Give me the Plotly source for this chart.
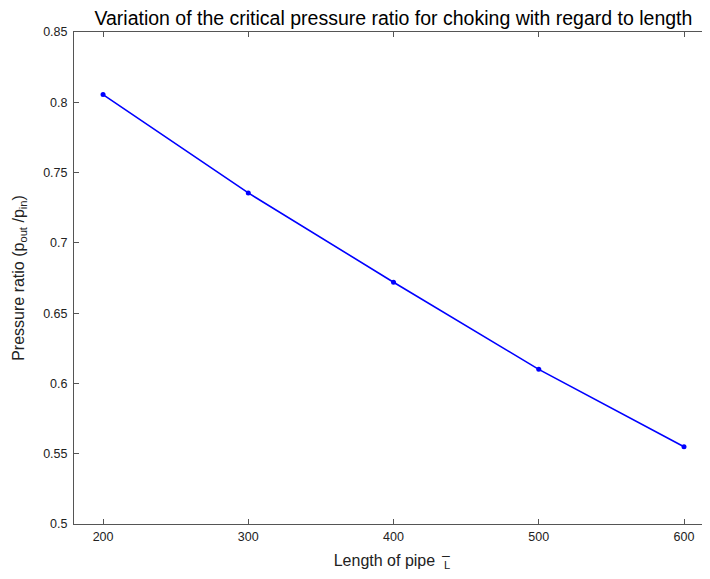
import plotly.graph_objects as go

lengths = [200, 300, 400, 500, 600]
pressure_ratio = [0.8055, 0.7355, 0.672, 0.610, 0.555]

x_ticks = [200, 300, 400, 500, 600]
y_ticks = [0.5, 0.55, 0.6, 0.65, 0.7, 0.75, 0.8, 0.85]
y_tick_text = ["0.5", "0.55", "0.6", "0.65", "0.7", "0.75", "0.8", "0.85"]

fig = go.Figure()
fig.add_trace(go.Scatter(
    x=lengths, y=pressure_ratio, mode="lines+markers",
    line=dict(color="#0000ff", width=1.6),
    marker=dict(color="#0000ff", size=5),
    showlegend=False,
))

font = "Liberation Sans, Arial, sans-serif"
fig.update_layout(
    width=702, height=571,
    margin=dict(l=66, r=0, t=24, b=55),
    paper_bgcolor="white", plot_bgcolor="white",
    font=dict(family=font, size=12.5, color="#222222"),
    title=dict(text="Variation of the critical pressure ratio for choking with regard to length",
               x=0.549, xanchor="center", y=0.995, yanchor="top",
               font=dict(family=font, size=19.5, color="black")),
    xaxis=dict(range=[180, 617.9], tickvals=x_ticks, ticks="inside", ticklen=5,
               tickcolor="#555555", showline=True, linecolor="#555555", linewidth=1,
               mirror="ticks", showgrid=False, zeroline=False, automargin=False,
               tickfont=dict(size=12.5), ticklabelstandoff=1,
               title=dict(text="Length of pipe  <sub>L</sub>", standoff=11,
                          font=dict(family=font, size=16, color="#222222"))),
    yaxis=dict(range=[0.5, 0.85], tickvals=y_ticks, ticktext=y_tick_text,
               ticks="inside", ticklen=5, tickcolor="#555555",
               showline=True, linecolor="#555555", linewidth=1, mirror=False,
               showgrid=False, zeroline=False, automargin=False,
               tickfont=dict(size=12.5), ticklabelstandoff=3,
               title=dict(text="Pressure ratio (p<sub>out</sub> /p<sub>in</sub>)", standoff=14,
                          font=dict(family=font, size=16, color="#222222"))),
)
fig.add_annotation(text="–", xref="paper", yref="paper", x=0.585, y=-0.064,
                   xanchor="center", yanchor="middle", showarrow=False,
                   font=dict(family=font, size=14, color="#222222"))
fig.write_html("out.html")
